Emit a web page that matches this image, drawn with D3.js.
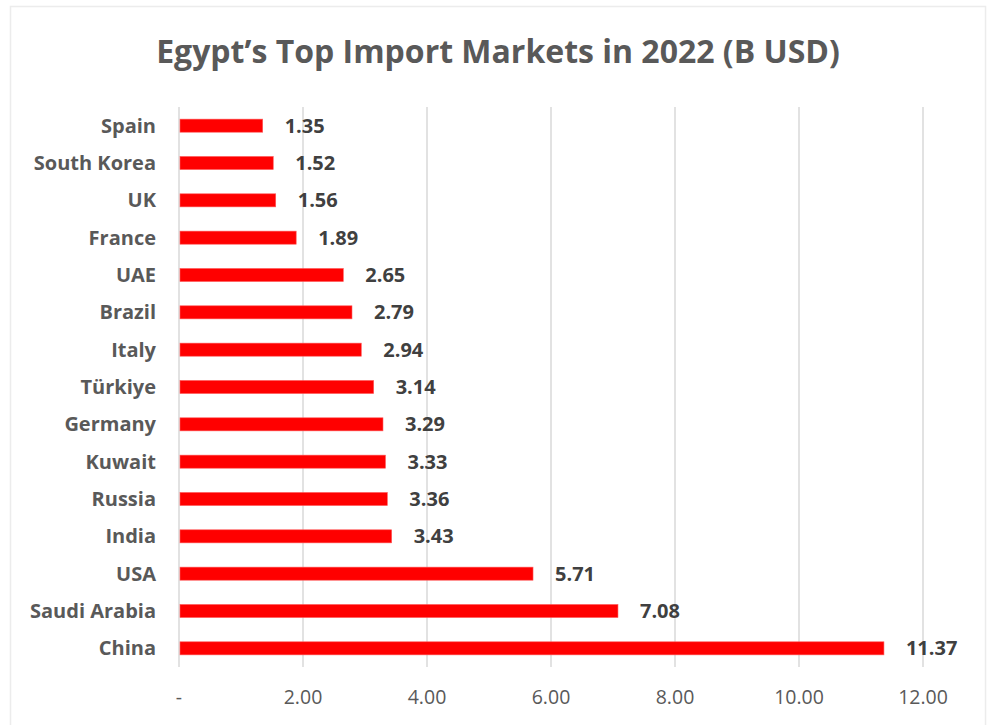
<!DOCTYPE html>
<html>
<head>
<meta charset="utf-8">
<script src="https://cdn.jsdelivr.net/npm/d3@7"></script>
<style>
  body { margin: 0; background: #fff; }
  text { font-family: "Open Sans", Lato, sans-serif; }
</style>
</head>
<body>
<div id="chart"></div>
<script>
const countries = ["Spain", "South Korea", "UK", "France", "UAE", "Brazil", "Italy", "Türkiye",
    "Germany", "Kuwait", "Russia", "India", "USA", "Saudi Arabia", "China"]
const values = [1.35, 1.52, 1.56, 1.89, 2.65, 2.79, 2.94, 3.14, 3.29, 3.33, 3.36, 3.43, 5.71, 7.08, 11.37]
const ticks = [0, 2, 4, 6, 8, 10, 12]
const title = "Egypt’s Top Import Markets in 2022 (B USD)"

const width = 990, height = 725

const svg = d3.select("#chart").append("svg")
    .attr("width", width)
    .attr("height", height)

// chart border
svg.append("rect")
    .attr("x", 10.5).attr("y", 6.5)
    .attr("width", 975).attr("height", 730)
    .attr("fill", "white")
    .attr("stroke", "#ececec")
    .attr("stroke-width", 1.5)

svg.append("text")
    .attr("x", 498).attr("y", 63)
    .attr("text-anchor", "middle")
    .attr("font-size", 32)
    .attr("font-weight", "bold")
    .attr("fill", "#595959")
    .text(title)

const x = d3.scaleLinear().domain([0, 12]).range([179, 923])
const y = d3.scaleBand().domain(countries).range([107, 667]).paddingInner(0.65).paddingOuter(0.325)

// gridlines
svg.append("g").selectAll("line")
    .data(ticks).join("line")
    .attr("x1", d => x(d)).attr("x2", d => x(d))
    .attr("y1", 107).attr("y2", 667)
    .attr("stroke", "#d9d9d9")
    .attr("stroke-width", 1.5)

// tick labels
svg.append("g").selectAll("text")
    .data(ticks).join("text")
    .attr("x", d => x(d))
    .attr("y", 704)
    .attr("text-anchor", "middle")
    .attr("font-size", 19.5)
    .attr("fill", "#595959")
    .text(d => d === 0 ? "-" : d3.format(".2f")(d))

// bars
svg.append("g").selectAll("rect")
    .data(countries).join("rect")
    .attr("x", x(0) + 1)
    .attr("y", d => y(d))
    .attr("width", (d, i) => x(values[i]) - x(0) - 1)
    .attr("height", y.bandwidth())
    .attr("fill", "#ff0000")
    .attr("stroke", "#ff5a5a")
    .attr("stroke-width", 0.6)

// category labels
svg.append("g").selectAll("text")
    .data(countries).join("text")
    .attr("x", 156)
    .attr("y", d => y(d) + y.bandwidth() / 2)
    .attr("dy", "0.35em")
    .attr("text-anchor", "end")
    .attr("font-size", 20)
    .attr("font-weight", "bold")
    .attr("fill", "#595959")
    .text(d => d)

// value labels
svg.append("g").selectAll("text")
    .data(countries).join("text")
    .attr("x", (d, i) => x(values[i]) + 22)
    .attr("y", d => y(d) + y.bandwidth() / 2)
    .attr("dy", "0.35em")
    .attr("font-size", 20)
    .attr("font-weight", "bold")
    .attr("fill", "#404040")
    .text((d, i) => d3.format(".2f")(values[i]))
</script>
</body>
</html>
